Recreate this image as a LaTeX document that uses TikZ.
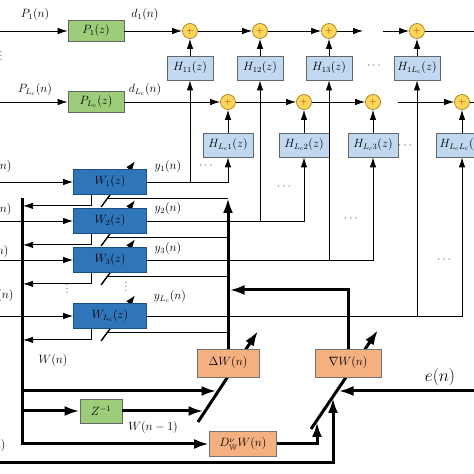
\documentclass[tikz,border=0pt]{standalone}
\usepackage{amssymb}
\usepackage{amsmath}
\usepackage{tikz}
\usetikzlibrary{arrows.meta, calc, backgrounds}
\definecolor{pgreen}{RGB}{158,205,122}
\definecolor{hblue}{RGB}{192,217,240}
\definecolor{wblue}{RGB}{46,117,186}
\definecolor{wline}{RGB}{30,78,135}
\definecolor{dorange}{RGB}{245,176,130}
\definecolor{sumfill}{RGB}{255,215,88}
\definecolor{sumline}{RGB}{175,135,45}
\definecolor{plusred}{RGB}{150,25,20}
\tikzset{
    x=1pt, y=1pt, % one unit is one pixel of the figure
    every node/.style={font=\fontsize{12}{14}\selectfont}, % size of the labels
    >={Latex[length=10pt,width=6.5pt]}, % filled heads on the thin lines
    sig/.style={line width=0.8pt}, % thin signal lines
    bold/.style={line width=3pt, >={Latex[length=15pt,width=10pt]}}, % thick weight paths
    adapt/.style={line width=1.4pt, ->, >={Latex[length=10pt,width=7pt]}}, % adjustable arrow through a filter
    pbox/.style={draw=black!60, line width=0.8pt, fill=pgreen, minimum width=56pt, minimum height=21pt, inner sep=1pt},
    hbox/.style={draw=black!60, line width=0.8pt, fill=hblue, minimum width=46pt, minimum height=24pt, inner sep=1pt},
    wbox/.style={draw=wline, line width=0.8pt, fill=wblue, minimum width=73pt, minimum height=25pt, inner sep=1pt},
    obox/.style={draw=black!55, line width=0.8pt, fill=dorange, minimum width=62pt, minimum height=28pt, inner sep=1pt},
    sumnode/.style={circle, draw=sumline, line width=0.8pt, fill=sumfill, minimum size=15pt, inner sep=0pt, text=plusred, font=\small\bfseries},
    dots/.style={text=black!65, inner sep=0pt}, % the little dot groups
}

\begin{document}
\begin{tikzpicture}
    \useasboundingbox (0,0) rectangle (474,474);
    \coordinate (l0) at (0,0);
    \coordinate (r0) at (474,0);
    % primary paths
    \node[pbox] (p1) at (96,443) {$P_1(z)$};
    \node[pbox, below of=p1, node distance=71pt] (pL) {$P_{L_c}(z)$};
    % first sensor row
    \node[sumnode] (s11) at (190,443) {$+$};
    \node[sumnode, right of=s11, node distance=70pt] (s12) {$+$};
    \node[sumnode, right of=s12, node distance=69pt] (s13) {$+$};
    \node[sumnode, right of=s13, node distance=88pt] (s1L) {$+$};
    \node[hbox, below of=s11, node distance=37pt] (h11) {$H_{11}(z)$};
    \node[hbox, below of=s12, node distance=37pt] (h12) {$H_{12}(z)$};
    \node[hbox, below of=s13, node distance=37pt] (h13) {$H_{13}(z)$};
    \node[hbox, below of=s1L, node distance=37pt] (h1L) {$H_{1L_c}(z)$};
    % last sensor row
    \node[sumnode] (sL1) at (228,372) {$+$};
    \node[sumnode, right of=sL1, node distance=76pt] (sL2) {$+$};
    \node[sumnode, right of=sL2, node distance=69pt] (sL3) {$+$};
    \node[sumnode, right of=sL3, node distance=89pt] (sLL) {$+$};
    \node[hbox, minimum width=50pt, below of=sL1, node distance=43pt] (hL1) {$H_{L_c1}(z)$};
    \node[hbox, minimum width=50pt, below of=sL2, node distance=43pt] (hL2) {$H_{L_c2}(z)$};
    \node[hbox, minimum width=50pt, below of=sL3, node distance=43pt] (hL3) {$H_{L_c3}(z)$};
    \node[hbox, minimum width=52pt, below of=sLL, node distance=43pt] (hLL) {$H_{L_cL_c}(z)$};
    % control filters
    \node[wbox] (w1) at (110,292) {$W_1(z)$};
    \node[wbox, below of=w1, node distance=39pt] (w2) {$W_2(z)$};
    \node[wbox, below of=w2, node distance=39pt] (w3) {$W_3(z)$};
    \node[wbox, below of=w3, node distance=56pt] (wL) {$W_{L_c}(z)$};
    % update blocks
    \node[obox] (dW) at (228,111) {$\Delta W(n)$};
    \node[obox, minimum width=66pt, right of=dW, node distance=120pt] (gW) {$\nabla W(n)$};
    \node[pbox, minimum width=42pt, minimum height=24pt] (zi) at (101,63) {$Z^{-1}$};
    \node[obox, minimum width=67pt, minimum height=25pt] (dfw) at (243,30) {$D_{\mathbb{W}}^{\nu}W(n)$};

    \coordinate (t1) at (363,443);
    \coordinate (t2) at (383,443);
    \coordinate (t3) at (398,372);
    \coordinate (busL) at (22,276);
    \coordinate (busR) at (228,276);
    \coordinate (a1) at (198,52);   % slash through dW
    \coordinate (a2) at (258,143);
    \coordinate (b1) at (311,45);   % slash through gW
    \coordinate (b2) at (378,144);
    \coordinate (ta1) at (216.5,83);
    \coordinate (ta2) at (203.5,63);
    \coordinate (tb1) at (317,52);
    \coordinate (tb2) at (333,76);
    \coordinate (tb3) at (338.5,83);
    \coordinate (en0) at (474,83);
    \coordinate (xb) at (0,11);
    \coordinate (gb) at (229.5,184);

    % adjustable arrows, under the boxes
    \begin{scope}[on background layer]
        \draw[adapt] ($(w1.south west)+(28,-12)$) -- ($(w1.north west)+(62,8)$);
        \draw[adapt] ($(w2.south west)+(28,-12)$) -- ($(w2.north west)+(62,8)$);
        \draw[adapt] ($(w3.south west)+(28,-12)$) -- ($(w3.north west)+(62,8)$);
        \draw[adapt] ($(wL.south west)+(28,-12)$) -- ($(wL.north west)+(62,8)$);
        \draw[bold, ->] (a1) -- (a2);
        \draw[bold, ->] (b1) -- (b2);
    \end{scope}

    % primary and secondary paths
    \draw[sig, ->] (p1.west -| l0) -- (p1);
    \draw[sig, ->] (p1) -- (s11);
    \draw[sig, ->] (s11) -- (s12);
    \draw[sig, ->] (s12) -- (s13);
    \draw[sig, ->] (s13) -- (t1);
    \draw[sig, ->] (t2) -- (s1L);
    \draw[sig] (s1L) -- (s1L -| r0);
    \draw[sig, ->] (pL.west -| l0) -- (pL);
    \draw[sig, ->] (pL) -- (sL1);
    \draw[sig, ->] (sL1) -- (sL2);
    \draw[sig, ->] (sL2) -- (sL3);
    \draw[sig, ->] (t3) -- (sLL);
    \draw[sig] (sLL) -- (sLL -| r0);
    \draw[sig, ->] (h11) -- (s11);
    \draw[sig, ->] (h12) -- (s12);
    \draw[sig, ->] (h13) -- (s13);
    \draw[sig, ->] (h1L) -- (s1L);
    \draw[sig, ->] (hL1) -- (sL1);
    \draw[sig, ->] (hL2) -- (sL2);
    \draw[sig, ->] (hL3) -- (sL3);
    \draw[sig, ->] (hLL) -- (sLL);

    % filter outputs
    \draw[sig, ->] (w1) -| (hL1);
    \draw[sig, ->] (w1.east -| h11) -- (h11);
    \draw[sig, ->] (w2) -| (hL2);
    \draw[sig, ->] (w2.east -| h12) -- (h12);
    \draw[sig, ->] (w3) -| (hL3);
    \draw[sig, ->] (w3.east -| h13) -- (h13);
    \draw[sig, ->] (wL) -| (hLL);
    \draw[sig, ->] (wL.east -| h1L) -- (h1L);

    % reference inputs
    \draw[sig, ->] (w1.west -| l0) -- (w1);
    \draw[sig, ->] (w2.west -| l0) -- (w2);
    \draw[sig, ->] (w3.west -| l0) -- (w3);
    \draw[sig, ->] (wL.west -| l0) -- (wL);

    % weights in and out
    \draw[sig] ($(w1.south west)+(34.5,-4)$) -- ($(w1.south west)+(154.5,-4)$);
    \draw[sig] ($(w2.south west)+(34.5,-4)$) -- ($(w2.south west)+(154.5,-4)$);
    \draw[sig] ($(w3.south west)+(34.5,-4)$) -- ($(w3.south west)+(154.5,-4)$);
    \draw[sig] ($(wL.south west)+(34.5,-4)$) -- ($(wL.south west)+(154.5,-4)$);
    \draw[sig, ->] ($(w1.south west)+(18.5,0)$) -- ++(0,-11) -- ++(-68.5,0);
    \draw[sig, ->] ($(w2.south west)+(18.5,0)$) -- ++(0,-11) -- ++(-68.5,0);
    \draw[sig, ->] ($(w3.south west)+(18.5,0)$) -- ++(0,-11) -- ++(-68.5,0);
    \draw[sig, ->] ($(wL.south west)+(18.5,0)$) -- ++(0,-11) -- ++(-68.5,0);

    % update loop
    \draw[bold, ->] (busL) |- (dfw);
    \draw[bold, ->] (busL |- zi) -- (zi);
    \draw[bold, ->] (zi) -- (ta2);
    \draw[bold, ->] (busL |- ta1) -- (ta1);
    \draw[bold, ->] (dW) -- (busR);
    \draw[bold, ->] (gW) |- (gb);
    \draw[bold, ->] (dfw) -| (tb1);
    \draw[bold, ->] (xb) -| (tb2);
    \draw[bold, ->] (en0) -- (tb3);

    % labels
    \node (lp1) at (35,459) {$P_1(n)$};
    \node (ld1) at (145,459) {$d_1(n)$};
    \node (lpL) at (35,384) {$P_{L_c}(n)$};
    \node (ldL) at (145,384) {$d_{L_c}(n)$};
    \node (ly1) at (168,307) {$y_1(n)$};
    \node (ly2) at (168,265) {$y_2(n)$};
    \node (ly3) at (168,225) {$y_3(n)$};
    \node (lyL) at (170,177) {$y_{L_c}(n)$};
    \node (lw) at (53,113) {$W(n)$};
    \node (lw1) at (153,46) {$W(n-1)$};
    \node[font=\fontsize{17}{20}\selectfont] (le) at (440,97) {$e(n)$};
    \node[anchor=east] (lx1) at (15,307) {$x_1(n)$};
    \node[anchor=east] (lx2) at (15,264) {$x_2(n)$};
    \node[anchor=east] (lx3) at (12,222) {$x_3(n)$};
    \node[anchor=east] (lxL) at (17,178) {$x_{L_c}(n)$};
    \node[anchor=east] (lxb) at (9,28) {$x(n)$};
    \node[dots] (dt1) at (207,308) {$\cdots$};
    \node[dots] (dt2) at (285,287) {$\cdots$};
    \node[dots] (dt3) at (352,255) {$\cdots$};
    \node[dots] (dt4) at (445,214) {$\cdots$};
    \node[dots] (dt5) at (375,408) {$\cdots$};
    \node[dots] (dt6) at (406,328) {$\cdots$};
    \node[dots] (vd1) at (67,188) {$\vdots$};
    \node[dots] (vd2) at (126,190) {$\vdots$};
    \node[dots] (vd3) at (1,421) {$\vdots$};
\end{tikzpicture}
\end{document}
